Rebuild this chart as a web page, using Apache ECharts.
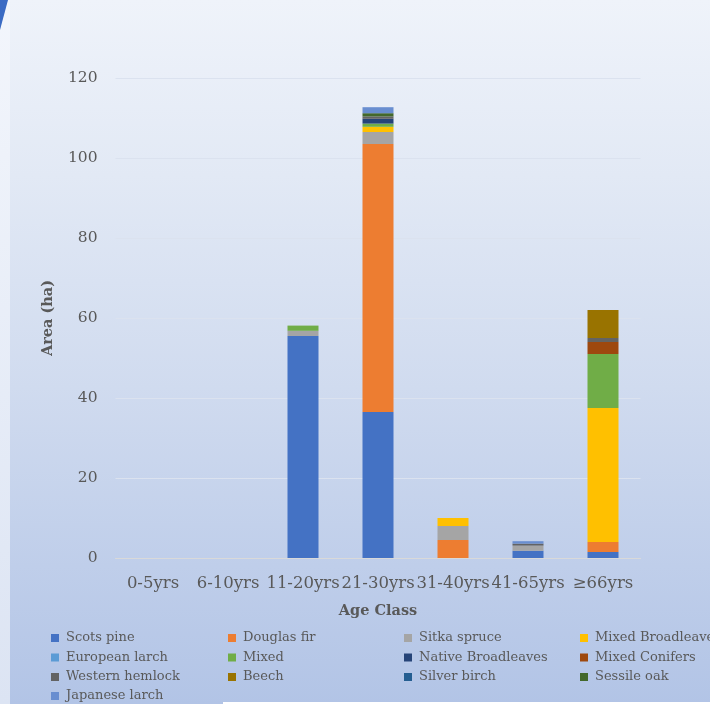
<!DOCTYPE html>
<html>
<head>
<meta charset="utf-8">
<script src="https://cdn.jsdelivr.net/npm/echarts@6/dist/echarts.min.js"></script>
<style>
  html, body { margin: 0; padding: 0; }
  #chart {
    width: 710px; height: 704px;
    background: linear-gradient(180deg, #eff3fa 0%, #e2e9f5 25%, #d0dbef 55%, #b2c4e6 100%);
  }
</style>
</head>
<body>
<div id="chart"></div>
<script>
// Age classes on the x axis
const ageClasses = ['0-5yrs', '6-10yrs', '11-20yrs', '21-30yrs', '31-40yrs', '41-65yrs', '≥66yrs'];

// Area (ha) per species and age class
const scotsPine         = [0, 0, 55.5, 36.5, 0,   1.8, 1.5];
const douglasFir        = [0, 0, 0,    67,   4.5, 0,   2.5];
const sitkaSpruce       = [0, 0, 1.3,  3,    3.5, 1.3, 0];
const mixedBroadleaves  = [0, 0, 0,    1.3,  2,   0,   33.5];
const europeanLarch     = [0, 0, 0,    0,    0,   0,   0];
const mixed             = [0, 0, 1.3,  0.8,  0,   0,   13.5];
const nativeBroadleaves = [0, 0, 0,    1.2,  0,   0,   0];
const mixedConifers     = [0, 0, 0,    0,    0,   0,   3];
const westernHemlock    = [0, 0, 0,    0.6,  0,   0.5, 1];
const beech             = [0, 0, 0,    0,    0,   0,   7];
const silverBirch       = [0, 0, 0,    0,    0,   0,   0];
const sessileOak        = [0, 0, 0,    0.8,  0,   0,   0];
const japaneseLarch     = [0, 0, 0,    1.5,  0,   0.6, 0];

// Y axis ticks
const yTicks = [0, 20, 40, 60, 80, 100, 120];

const speciesNames = [
  'Scots pine', 'Douglas fir', 'Sitka spruce', 'Mixed Broadleaves',
  'European larch', 'Mixed', 'Native Broadleaves', 'Mixed Conifers',
  'Western hemlock', 'Beech', 'Silver birch', 'Sessile oak', 'Japanese larch'
];
const speciesValues = [
  scotsPine, douglasFir, sitkaSpruce, mixedBroadleaves,
  europeanLarch, mixed, nativeBroadleaves, mixedConifers,
  westernHemlock, beech, silverBirch, sessileOak, japaneseLarch
];
const speciesColors = [
  '#4472C4', '#ED7D31', '#A5A5A5', '#FFC000',
  '#5B9BD5', '#70AD47', '#264478', '#9E480E',
  '#636363', '#997300', '#255E91', '#43682B', '#698ED0'
];

const FONT = 'DejaVu Serif';
const TEXT = '#595959';

const series = speciesNames.map((name, i) => ({
  name: name,
  type: 'bar',
  stack: 'area',
  barWidth: 31,
  itemStyle: { color: speciesColors[i] },
  emphasis: { disabled: true },
  data: speciesValues[i]
}));

// Legend: four columns, filled row by row, one entry per legend box
const legendLefts = [51, 228, 404, 580];
const legendRowCenters = [638, 657.5, 677, 696];
const legends = speciesNames.map((name, k) => ({
  orient: 'horizontal',
  left: legendLefts[k % 4],
  top: legendRowCenters[Math.floor(k / 4)] - 8,
  padding: 0,
  itemWidth: 8,
  itemHeight: 8,
  icon: 'rect',
  textStyle: { fontFamily: FONT, fontSize: 13, color: TEXT, lineHeight: 16, padding: [0, 0, 0, 2] },
  data: [name]
}));

const chart = echarts.init(document.getElementById('chart'), null, { renderer: 'canvas' });
chart.setOption({
  backgroundColor: 'transparent',
  animation: false,
  grid: { left: 115.5, right: 69.5, top: 78, bottom: 146, containLabel: false },
  xAxis: {
    type: 'category',
    data: ageClasses,
    name: 'Age Class',
    nameLocation: 'middle',
    nameGap: 46,
    nameTextStyle: { fontFamily: FONT, fontSize: 14.5, fontWeight: 'bold', color: TEXT },
    axisLine: { lineStyle: { color: '#d9d9d9', width: 1 } },
    axisTick: { show: false },
    axisLabel: { fontFamily: FONT, fontSize: 16.5, color: TEXT, margin: 17, interval: 0 }
  },
  yAxis: {
    type: 'value',
    min: yTicks[0],
    max: yTicks[yTicks.length - 1],
    interval: yTicks[1] - yTicks[0],
    name: 'Area (ha)',
    nameLocation: 'middle',
    nameGap: 60,
    nameRotate: 90,
    nameTextStyle: { fontFamily: FONT, fontSize: 14.5, fontWeight: 'bold', color: TEXT },
    axisLine: { show: false },
    axisTick: { show: false },
    splitLine: { lineStyle: { color: '#dbe2ef', width: 1 } },
    axisLabel: { fontFamily: FONT, fontSize: 15.5, color: TEXT, margin: 18 }
  },
  legend: legends,
  series: series,
  graphic: [
    // pale strip down the left edge
    { type: 'rect', silent: true, z: -5, shape: { x: 0, y: 0, width: 10, height: 704 },
      style: { fill: new echarts.graphic.LinearGradient(0, 0, 0, 1, [
        { offset: 0, color: '#f3f6fc' }, { offset: 1, color: '#dce4f3' }]) } },
    // blue accent wedge in the top-left corner
    { type: 'polygon', silent: true, z: -4, shape: { points: [[0, 0], [8, 0], [0, 30]] },
      style: { fill: '#3c6cc4' } },
    // white band along the bottom edge
    { type: 'rect', silent: true, z: -4, shape: { x: 223, y: 702, width: 487, height: 2 },
      style: { fill: '#ffffff' } }
  ]
});
</script>
</body>
</html>
